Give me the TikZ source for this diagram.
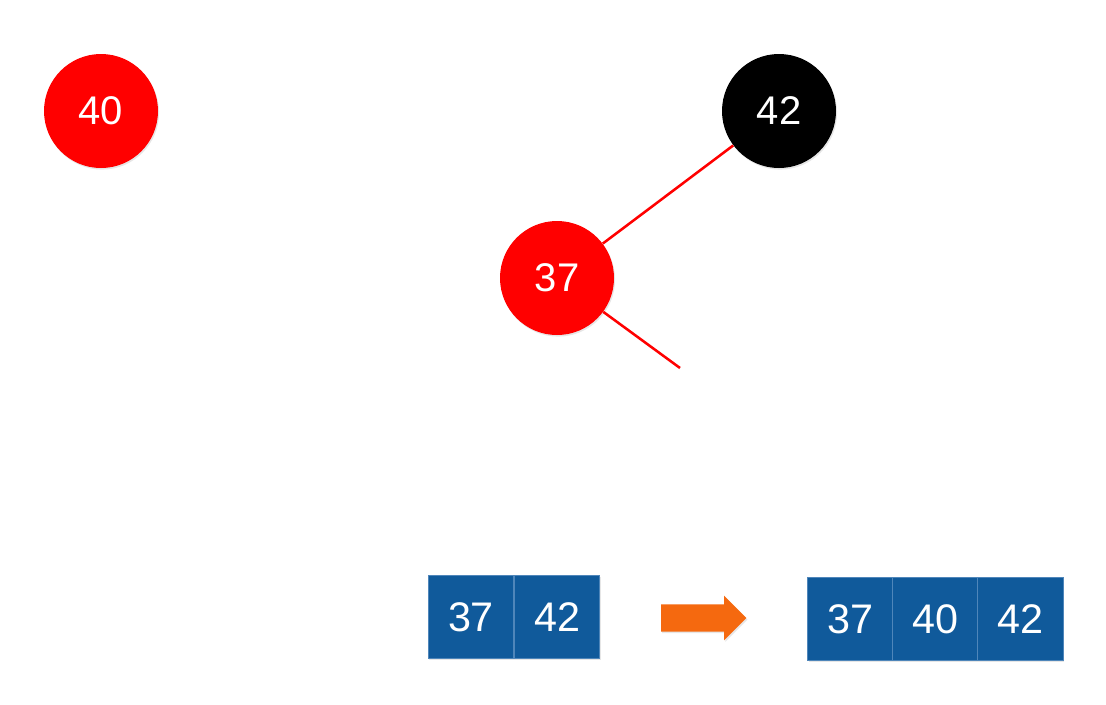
\documentclass[tikz,border=0pt]{standalone}
\usepackage{fontspec}
\setmainfont{Liberation Sans}
\usetikzlibrary{shapes.arrows,shadows}
\definecolor{rbred}{HTML}{FF0000}
\definecolor{boxblue}{HTML}{105A9B}
\definecolor{boxline}{HTML}{4F86BA}
\definecolor{arroworange}{HTML}{F5690F}
\tikzset{
  rbnode/.style={circle, minimum size=85.5pt, inner sep=0pt, text=white,
    font=\fontsize{30}{32}\selectfont,
    drop shadow={opacity=0.2, shadow xshift=0.8pt, shadow yshift=-1.2pt}},
  rednode/.style={rbnode, fill=rbred},
  blacknode/.style={rbnode, fill=black},
  link/.style={draw=rbred, line width=1.9pt},
  cell/.style={rectangle, minimum width=64pt, minimum height=62.5pt, inner sep=0pt,
    fill=boxblue, draw=boxline, line width=0.8pt, text=white,
    font=\fontsize{31}{33}\selectfont,
    drop shadow={opacity=0.2, shadow xshift=0.8pt, shadow yshift=-1.2pt}},
  bigarrow/.style={single arrow, fill=arroworange, draw=none,
    minimum height=64pt, inner xsep=0pt, inner ysep=10pt,
    single arrow head extend=6.5pt, single arrow tip angle=90,
    drop shadow={opacity=0.2, shadow xshift=0.8pt, shadow yshift=-1.2pt}}
}
\begin{document}
\begin{tikzpicture}[x=0.75pt,y=-0.75pt]
\useasboundingbox (0,0) rectangle (1106,704);
% tree
\node[rednode] (n40) at (101,111) {40};
\node[blacknode] (n42) at (779,111) {42};
\node[rednode] (n37) at (557,278) {37};
\coordinate (c37r) at (680,368);
\draw[link] (n42) -- (n37);
\draw[link] (n37) -- (c37r);
% left array
\node[cell] (a1) at (471,617) {37};
\node[cell] (a2) at (557,617) {42};
% arrow
\node[bigarrow] (arr) at (697,618) {};
% right array
\node[cell] (b1) at (850.5,619) {37};
\node[cell] (b2) at (935.5,619) {40};
\node[cell] (b3) at (1020.5,619) {42};
\end{tikzpicture}
\end{document}
